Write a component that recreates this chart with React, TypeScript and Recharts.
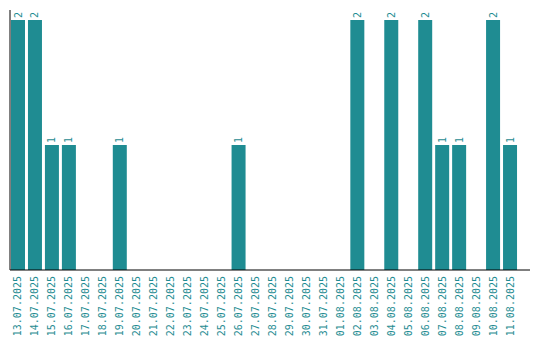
import React from "react";
import { BarChart, Bar, XAxis, YAxis, LabelList } from "recharts";

const dates = [
  "13.07.2025", "14.07.2025", "15.07.2025", "16.07.2025", "17.07.2025",
  "18.07.2025", "19.07.2025", "20.07.2025", "21.07.2025", "22.07.2025",
  "23.07.2025", "24.07.2025", "25.07.2025", "26.07.2025", "27.07.2025",
  "28.07.2025", "29.07.2025", "30.07.2025", "31.07.2025", "01.08.2025",
  "02.08.2025", "03.08.2025", "04.08.2025", "05.08.2025", "06.08.2025",
  "07.08.2025", "08.08.2025", "09.08.2025", "10.08.2025", "11.08.2025",
];
const counts = [2, 2, 1, 1, 0, 0, 1, 0, 0, 0, 0, 0, 0, 1, 0, 0, 0, 0, 0, 0, 2, 0, 2, 0, 2, 1, 1, 0, 2, 1];

const data = dates.map((d, i) => ({ date: d, value: counts[i] }));

const TEAL = "#1f8c92";
const FONT = "'DejaVu Sans Mono', monospace";

const Tick = (props: any) => {
  const { x, payload } = props;
  const ty = 276;
  return (
    <text
      x={x}
      y={ty}
      transform={`rotate(-90, ${x}, ${ty})`}
      textAnchor="end"
      dy="0.35em"
      fill={TEAL}
      fontSize={10}
      fontFamily={FONT}
    >
      {payload.value}
    </text>
  );
};

const BarLabel = (props: any) => {
  const { x, y, width, value } = props;
  if (!value) return null;
  const cx = x + width / 2;
  const ty = y - 2;
  return (
    <text
      x={cx}
      y={ty}
      transform={`rotate(-90, ${cx}, ${ty})`}
      textAnchor="start"
      dy="0.35em"
      fill={TEAL}
      fontSize={10}
      fontFamily={FONT}
    >
      {value}
    </text>
  );
};

export default function App() {
  return (
    <div style={{ position: "absolute", left: 0, top: 0, width: 540, height: 340, background: "#fff" }}>
      <BarChart
        width={540}
        height={340}
        data={data}
        margin={{ top: 10, right: 10, left: 9, bottom: 0 }}
        barCategoryGap={1.5}
      >
        <XAxis
          dataKey="date"
          interval={0}
          height={70}
          tickLine={false}
          axisLine={{ stroke: "#000" }}
          tick={<Tick />}
          padding={{ left: -0.5, right: 11.5 }}
        />
        <YAxis
          width={1}
          domain={[0, 2.08]}
          tick={false}
          tickLine={false}
          axisLine={{ stroke: "#000" }}
        />
        <Bar dataKey="value" fill={TEAL} isAnimationActive={false}>
          <LabelList dataKey="value" content={<BarLabel />} />
        </Bar>
      </BarChart>
    </div>
  );
}
